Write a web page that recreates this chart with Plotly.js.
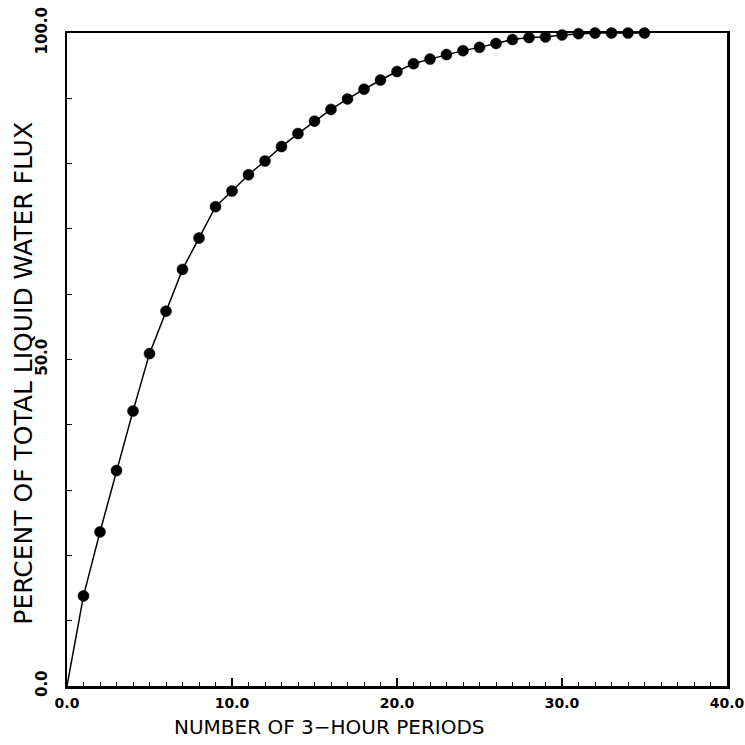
<!DOCTYPE html>
<html>
<head>
<meta charset="utf-8">
<script src="https://cdn.plot.ly/plotly-3.0.1.min.js"></script>
<style>html,body{margin:0;padding:0;background:#fff;}#chart{width:745px;height:745px;}</style>
</head>
<body>
<div id="chart"></div>
<script>
// Data
const periods = [0, 1, 2, 3, 4, 5, 6, 7, 8, 9, 10, 11, 12, 13, 14, 15, 16, 17, 18, 19, 20,
                 21, 22, 23, 24, 25, 26, 27, 28, 29, 30, 31, 32, 33, 34, 35];
const percentFlux = [0, 13.8, 23.6, 33.0, 42.1, 50.9, 57.4, 63.8, 68.6, 73.4, 75.8,
                     78.3, 80.4, 82.6, 84.6, 86.5, 88.3, 89.9, 91.4, 92.8, 94.1,
                     95.3, 96.0, 96.7, 97.3, 97.8, 98.4, 99.0, 99.3, 99.4, 99.7,
                     99.9, 100, 100, 100, 100];
const xTickVals = [0, 10, 20, 30, 40];
const xTickText = ['0.0', '10.0', '20.0', '30.0', '40.0'];
const yTickVals = [0, 50, 100];
const yTickText = ['0.0', '50.0', '100.0'];
const xTitle = 'NUMBER OF 3\u2212HOUR PERIODS';
const yTitle = 'PERCENT OF TOTAL LIQUID WATER FLUX';

// the curve starts at the origin without a dot
const markerSizes = periods.map(p => p === 0 ? 0 : 11);

const traces = [{
  x: periods,
  y: percentFlux,
  type: 'scatter',
  mode: 'lines+markers',
  line: {color: '#000', width: 1.5},
  marker: {color: '#000', size: markerSizes, opacity: 1, line: {color: '#000', width: 0.5}},
  cliponaxis: false,
  hoverinfo: 'skip'
}];

const layout = {
  width: 745, height: 745,
  margin: {l: 67, r: 18, t: 33, b: 59},
  paper_bgcolor: '#fff', plot_bgcolor: '#fff',
  showlegend: false,
  xaxis: {
    range: [0, 40],
    tickvals: xTickVals, ticktext: xTickText,
    ticks: 'inside', ticklen: 8, tickwidth: 1.5, tickcolor: '#000',
    minor: {dtick: 1, ticks: 'inside', ticklen: 4, tickwidth: 1, tickcolor: '#000'},
    showgrid: false, zeroline: false,
    showline: true, linecolor: '#000', linewidth: 2.5, mirror: true,
    tickfont: {family: 'DejaVu Sans', size: 14, color: '#000', weight: 'bold'},
    ticklabeloverflow: 'allow',
    ticklabelstandoff: 3
  },
  yaxis: {
    range: [0, 100],
    tickvals: yTickVals, ticktext: yTickText,
    ticks: 'inside', ticklen: 5, tickwidth: 1, tickcolor: '#000',
    minor: {dtick: 10, ticks: 'inside', ticklen: 5, tickwidth: 1, tickcolor: '#000'},
    showgrid: false, zeroline: false,
    showline: true, linecolor: '#000', linewidth: 2.5, mirror: true,
    tickangle: -90,
    tickfont: {family: 'DejaVu Sans', size: 15, color: '#000', weight: 'bold'},
    ticklabeloverflow: 'allow',
    ticklabelstandoff: 12
  },
  annotations: [
    {text: xTitle, xref: 'paper', yref: 'paper', x: 0.398, y: -0.063,
     xanchor: 'center', yanchor: 'middle', showarrow: false,
     font: {family: 'DejaVu Sans', size: 20, color: '#000'}},
    {text: yTitle, xref: 'paper', yref: 'paper', x: -0.066, y: 0.479,
     xanchor: 'center', yanchor: 'middle', showarrow: false, textangle: -90,
     font: {family: 'DejaVu Sans', size: 25, color: '#000'}}
  ]
};

Plotly.newPlot('chart', traces, layout, {staticPlot: true, displayModeBar: false});
</script>
</body>
</html>
